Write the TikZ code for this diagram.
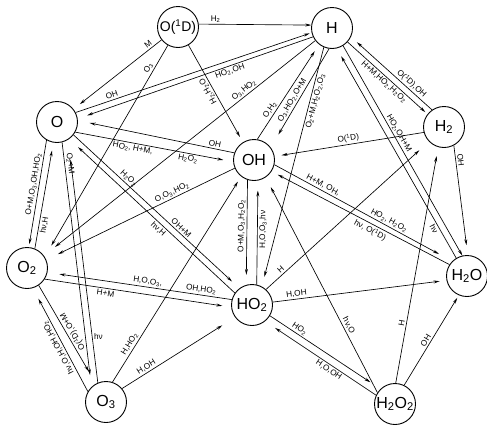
\documentclass[tikz,border=0pt]{standalone}
\usepackage{fontspec}
\setmainfont{Liberation Sans}
\newfontfamily\labfont{Liberation Sans}
\usetikzlibrary{arrows.meta}
\newcommand\sub[1]{\textsubscript{#1}}
\begin{document}
\begin{tikzpicture}[x=1pt,y=-1pt,
  st/.style={circle,draw,line width=0.9pt,minimum size=41pt,inner sep=0pt,font=\fontsize{16}{16}\selectfont},
  ln/.style={line width=0.65pt},
  ar/.style={ln,-{Stealth[length=6pt,width=3pt]}},
  lab/.style={font=\labfont\fontsize{8.2}{9}\selectfont,inner sep=1.6pt}]
\useasboundingbox (0,0) rectangle (487,426);
% species
\node[st,font=\fontsize{14}{14}\selectfont] (O1D) at (178,27) {O(\textsuperscript{1}D)};
\node[st] (H)    at (332,28)  {H};
\node[st] (O)    at (57,122)  {O};
\node[st] (H2)   at (444,127) {H\sub2};
\node[st] (OH)   at (254,160) {OH};
\node[st] (O2)   at (27,268)  {O\sub2};
\node[st] (HO2)  at (252,305) {HO\sub2};
\node[st] (H2O)  at (467,276) {H\sub2O};
\node[st] (O3)   at (106,402) {O\sub3};
\node[st] (H2O2) at (395,404) {H\sub2O\sub2};
% O(1D)
\draw[ar] (O1D.8) -- node[lab,above,pos=0.15]{H\sub2} (H.172);
\draw[ar,shorten >=8pt] (O1D.218) -- node[lab,sloped,above,pos=0.12]{M} (O.38);
\draw[ar,shorten >=13pt] (O1D.241) -- node[lab,sloped,above,pos=0.12]{O\sub3} (O2.32);
\draw[ar,shorten >=6pt] (O1D.300) -- node[lab,rotate=119,anchor=south,pos=0.45]{H\sub2,H\sub2O} (OH.122);
% O - H
\draw[ar,shorten >=2pt] (O.27) -- node[lab,sloped,above,pos=0.16]{OH} (H.193);
\draw[ar,shorten >=10pt] (H.205) -- node[lab,sloped,below,pos=0.36]{HO\sub2,OH} (O.9);
\draw[ar,shorten >=14pt] (H.217) -- node[lab,sloped,above,pos=0.25]{O\sub3,HO\sub2} (O2.36);
% OH - H
\draw[ar,shorten >=8pt] (OH.81) -- node[lab,sloped,above,pos=0.28]{O,H\sub2} (H.232);
\draw[ar,shorten >=15pt] (H.262) -- node[lab,sloped,above,pos=0.55]{O\sub3,HO\sub2,O+M} (OH.37);
\draw[ar,shorten >=10pt] (H.247) -- node[lab,sloped,below,pos=0.22]{O\sub2+M,H\sub2O\sub2,O\sub3} (HO2.62);
% H - H2
\draw[ar,shorten >=8pt] (H2.125) -- node[lab,sloped,above,pos=0.3]{O(\textsuperscript{1}D),OH} (H.335);
\draw[ar,shorten >=3pt] (H.318) -- node[lab,sloped,below,pos=0.5]{H+M,HO\sub2,H\sub2O\sub2} (H2.142);
% H - H2O
\draw[ar,shorten >=9pt] (H2O.121) -- node[lab,sloped,below,pos=0.15]{hν} (H.283);
\draw[ar] (H.302) -- node[lab,sloped,above,pos=0.43]{HO\sub2,OH+M} (H2O.103);
% H2
\draw[ar,shorten >=10pt] (H2.298) -- node[lab,sloped,above,pos=0.14]{OH} (H2O.88);
\draw[ar,shorten >=7pt] (H2.195) -- node[lab,sloped,above,pos=0.5]{O(\textsuperscript{1}D)} (OH.10);
% O - OH
\draw[ar,shorten >=12pt] (OH.160) -- node[lab,sloped,above,pos=0.13]{OH} (O.4);
\draw[ar,shorten >=10pt] (O.331) -- node[lab,sloped,below,pos=0.37]{HO\sub2, H+M,} node[lab,sloped,below,pos=0.72]{H\sub2O\sub2} (OH.185);
% OH - O2
\draw[ar,shorten >=13pt] (OH.203) -- node[lab,sloped,above,pos=0.32]{O,O\sub3,HO\sub2} (O2.23);
% O - O2
\draw[ar,shorten >=3pt] (O.240) -- node[lab,sloped,above,pos=0.42]{O+M,O\sub3,OH,HO\sub2} (O2.85);
\draw[ar,shorten >=8pt] (O2.68) -- node[lab,sloped,below,pos=0.23]{hν,H} (O.260);
% O - O3
\draw[ar,shorten >=12pt] (O.284) -- node[lab,sloped,above,pos=0.09]{O\sub2+M} (O3.134);
\draw[ar,shorten >=20pt] (O3.113) -- node[lab,right,pos=0.19]{hν} (O.302);
% O2 - O3
\draw[ar,shorten >=14pt] (O2.304) -- node[lab,rotate=120,anchor=north,pos=0.5]{O(\textsuperscript{1}D),O+M} (O3.119);
\draw[ar,shorten >=12pt] (O3.150) -- node[lab,rotate=118,anchor=south,pos=0.45]{hν,O,H,OH,HO\sub2} (O2.286);
% O3
\draw[ar,shorten >=6pt] (O3.72) -- node[lab,sloped,above,pos=0.17]{H,HO\sub2} (OH.232);
\draw[ar,shorten >=15pt] (O3.40) -- node[lab,sloped,above,pos=0.24]{H,OH} (HO2.216);
% HO2 - O2
\draw[ar,shorten >=12pt] (HO2.165) -- node[lab,sloped,above,pos=0.17]{OH,HO\sub2} node[lab,sloped,above,pos=0.46]{H,O,O\sub3,} (O2.348);
\draw[ar,shorten >=9pt] (O2.328) -- node[lab,sloped,below,pos=0.33]{H+M} (HO2.186);
% OH - HO2
\draw[ar,shorten >=10pt] (OH.252) -- node[lab,sloped,above,pos=0.44]{O+M,O\sub3,H\sub2O\sub2} (HO2.106);
\draw[ar,shorten >=10pt] (HO2.77) -- node[lab,sloped,below,pos=0.53]{H,O,O\sub3,hν} (OH.281);
% O - HO2
\draw[ar,shorten >=10pt] (O.322) -- node[lab,sloped,above,pos=0.31]{H\sub2O\sub2} node[lab,sloped,above,pos=0.63]{OH+M} (HO2.127);
\draw[ar,shorten >=12pt] (HO2.145) -- node[lab,sloped,below,pos=0.44]{hν,H} (O.306);
% H2O2
\draw[ar,shorten >=11pt] (H2O2.147) -- node[lab,sloped,above,pos=0.3]{hν,O} (OH.304);
\draw[ar,shorten >=9pt] (H2O2.88) -- node[lab,sloped,above,pos=0.25]{H} (H2.254);
\draw[ar,shorten >=3pt] (H2O2.64) -- node[lab,sloped,above,pos=0.47]{OH} (H2O.247);
\draw[ar,shorten >=12pt] (H2O2.155) -- node[lab,sloped,below,pos=0.4]{H,O,OH} (HO2.309);
% HO2
\draw[ar,shorten >=13pt] (HO2.48) -- node[lab,sloped,above,pos=0.11]{H} (H2.224);
\draw[ar,shorten >=7pt] (HO2.8) -- node[lab,sloped,above,pos=0.14]{H,OH} (H2O.192);
\draw[ar,shorten >=12pt] (HO2.329) -- node[lab,sloped,above,pos=0.24]{HO\sub2} (H2O2.134);
% OH - H2O
\draw[ar,shorten >=15pt] (OH.347) -- node[lab,sloped,above,pos=0.26]{H+M, OH,} node[lab,sloped,above,pos=0.63]{HO\sub2, H\sub2O\sub2} (H2O.135);
\draw[ar,shorten >=7pt] (H2O.147) -- node[lab,sloped,below,pos=0.43]{hν, O(\textsuperscript{1}D)} (OH.327);
\end{tikzpicture}
\end{document}
